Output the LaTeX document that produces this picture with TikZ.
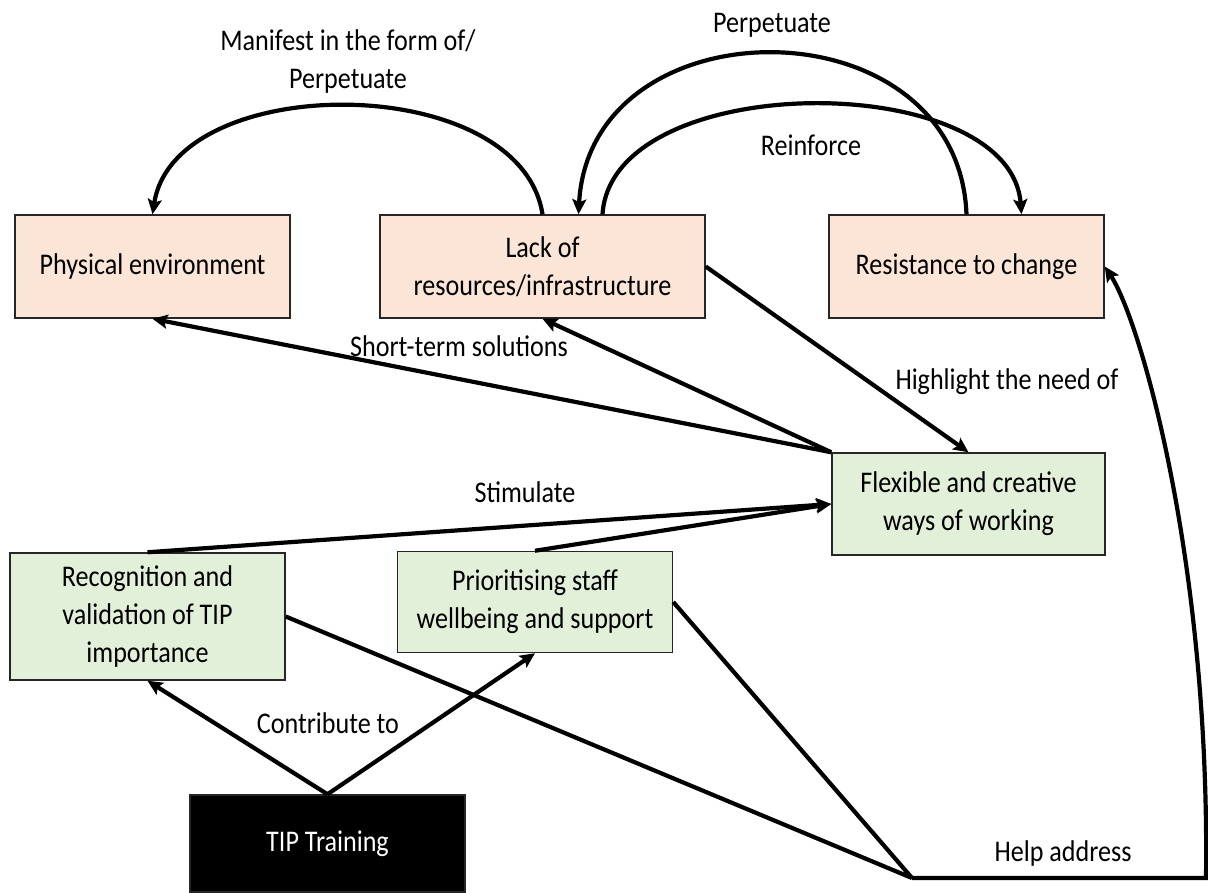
\documentclass[tikz,border=0pt]{standalone}
\usepackage{fontspec}
\setmainfont{Carlito}[FakeStretch=0.87]
\usepackage{tikz}
\usetikzlibrary{positioning,arrows.meta}
\definecolor{peach}{HTML}{FBE5D6}
\definecolor{sage}{HTML}{E2EFD9}
\tikzset{
	box/.style={draw=black!85, line width=1.5pt, minimum width=275pt, minimum height=103pt, align=center, inner sep=4pt},
	peachbox/.style={box, fill=peach},
	sagebox/.style={box, fill=sage},
	link/.style={line width=4.2pt, line join=miter, -{Stealth[length=15pt,width=14pt,inset=3pt]}},
	tag/.style={align=center, inner sep=2pt}
}
\newcommand{\factor}[4][peachbox]
{
	\node [#1] (#2) at (#3) {#4};
}
\newcommand{\wlink}[2]
{
	\draw [link] (#1) -- (#2);
}

\begin{document}
\begin{tikzpicture}[x=1pt, y=-1pt, font=\fontsize{30}{38}\selectfont]
		\useasboundingbox (0,0) rectangle (1208,892);
		\factor{phys}{152.5,266.5}{Physical environment}
		\factor[peachbox, minimum width=325pt]{lack}{542.5,266.5}{Lack of\\resources/infrastructure}
		\factor{res}{966.5,266.5}{Resistance to change}
		\factor[sagebox, minimum width=273pt, minimum height=102pt]{flex}{968.5,504}{Flexible and creative\\ways of working}
		\factor[sagebox, minimum height=127pt]{rec}{147.5,616.5}{Recognition and\\validation of TIP\\importance}
		\factor[sagebox, minimum height=101pt]{prio}{535,602}{Prioritising staff\\wellbeing and support}
		\factor[box, fill=black, text=white, minimum height=97pt]{tip}{327.5,843.5}{TIP Training}
		\coordinate (hub) at (912,878);
		\coordinate (corner) at (1206,878);
		
		% curved links on top
		\draw [link] (lack.north) .. controls (520,70) and (175,70) .. (phys.north);
		\draw [link] (res.north) .. controls (958,0) and (590,0) .. ([xshift=36pt]lack.north);
		\draw [link] ([xshift=60pt]lack.north) .. controls (612,68) and (1010,68) .. ([xshift=55pt]res.north);
		
		\wlink{flex.north west}{phys.south}
		\wlink{flex.north west}{lack.south}
		\wlink{lack.east}{flex.north}
		\wlink{rec.north}{flex.west}
		\wlink{prio.north}{flex.west}
		\wlink{tip.north}{rec.south}
		\wlink{tip.north}{prio.south}
		\draw [line width=4.2pt] (rec.east) -- (hub) (prio.east) -- (hub);
		\draw [link] (hub) -- (corner) .. controls (1210,560) and (1140,320) .. (res.east);
		
		\node [tag] (manifest) at (348,61) {Manifest in the form of/\\Perpetuate};
		\node [tag] (perp) at (772,25) {Perpetuate};
		\node [tag] (reinf) at (811,145) {Reinforce};
		\node [tag] (short) at (459,346) {Short-term solutions};
		\node [tag] (highlight) at (1007,382) {Highlight the need of};
		\node [tag] (stim) at (525,492) {Stimulate};
		\node [tag] (contrib) at (328,723) {Contribute to};
		\node [tag] (help) at (1063,853) {Help address};
\end{tikzpicture}
\end{document}
